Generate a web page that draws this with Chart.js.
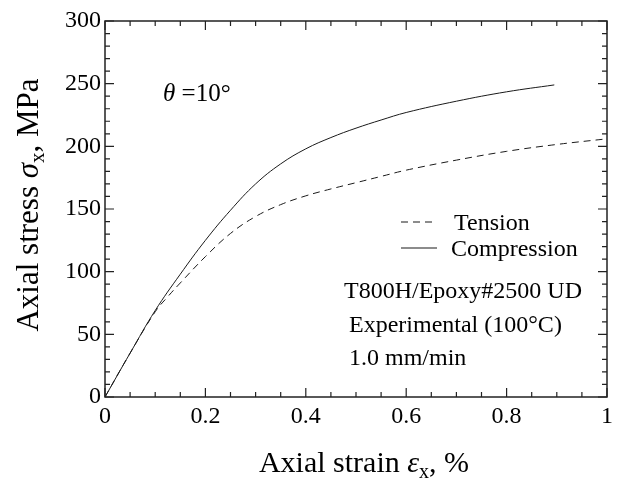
<!DOCTYPE html>
<html>
<head>
<meta charset="utf-8">
<script src="https://cdn.jsdelivr.net/npm/chart.js@4/dist/chart.umd.min.js"></script>
<style>
    html, body { margin: 0; padding: 0; background: #fff; }
    #wrap { width: 622px; height: 482px; position: relative; }
</style>
</head>
<body>
<div id="wrap"><canvas id="stress-strain"></canvas></div>
<script>
// axial strain (%) / axial stress (MPa) read from the test records
const Strain_Tension = [0, 0.05, 0.10, 0.125, 0.15, 0.20, 0.25, 0.30, 0.35, 0.40, 0.45, 0.50, 0.55, 0.60, 0.70, 0.80, 0.90, 1.0];
const Stress_Tension = [0, 35, 68, 80, 91, 112, 130.5, 144, 153.5, 160.5, 166, 171, 176, 181, 189, 196, 201.5, 206];
const Strain_Compression = [0, 0.05, 0.10, 0.15, 0.20, 0.25, 0.30, 0.35, 0.40, 0.45, 0.50, 0.55, 0.60, 0.70, 0.80, 0.895];
const Stress_Compression = [0, 35, 69, 98, 125, 149, 170, 186, 198, 207, 214.5, 221, 227, 236, 243.5, 249];
const Series_Names = ['Tension', 'Compression'];
const X_Ticks = [0, 0.2, 0.4, 0.6, 0.8, 1];
const Y_Ticks = [0, 50, 100, 150, 200, 250, 300];
const Notes = ['T800H/Epoxy#2500 UD', 'Experimental (100°C)', '1.0 mm/min'];

const SERIF = '"Liberation Serif", "Times New Roman", serif';
const INK = '#1a1a1a';

function toPoints(xs, ys) {
    return xs.map((x, i) => ({ x: x, y: ys[i] }));
}

// text made of runs with their own font and baseline shift
function richText(ctx, runs, x, y, align) {
    let total = 0;
    runs.forEach(r => { ctx.font = r.font; total += ctx.measureText(r.text).width; });
    let cx = align === 'center' ? x - total / 2 : x;
    runs.forEach(r => {
        ctx.font = r.font;
        ctx.fillText(r.text, cx, y + (r.dy || 0));
        cx += ctx.measureText(r.text).width;
    });
}

const framePlugin = {
    id: 'frame',
    afterDatasetsDraw(chart) {
        const { ctx, chartArea: a, scales } = chart;
        const xs = scales.x, ys = scales.y;
        ctx.save();
        ctx.strokeStyle = '#222';
        ctx.lineWidth = 1.5;
        ctx.strokeRect(a.left, a.top, a.right - a.left, a.bottom - a.top);

        // inward ticks on all four sides
        ctx.lineWidth = 1.2;
        ctx.beginPath();
        for (let i = 0; i <= 20; i++) {
            const v = i * 0.05;
            const len = i % 4 === 0 ? 9 : 5;
            const px = xs.getPixelForValue(v);
            ctx.moveTo(px, a.bottom); ctx.lineTo(px, a.bottom - len);
            ctx.moveTo(px, a.top); ctx.lineTo(px, a.top + len);
        }
        for (let i = 0; i <= 30; i++) {
            const v = i * 10;
            const len = i % 5 === 0 ? 9 : 5;
            const py = ys.getPixelForValue(v);
            ctx.moveTo(a.left, py); ctx.lineTo(a.left + len, py);
            ctx.moveTo(a.right, py); ctx.lineTo(a.right - len, py);
        }
        ctx.stroke();
        ctx.restore();
    },
    afterDraw(chart) {
        const { ctx } = chart;
        const ds = chart.data.datasets;
        ctx.save();
        ctx.fillStyle = '#000';
        ctx.textBaseline = 'alphabetic';

        // axis titles
        richText(ctx, [
            { text: 'Axial strain ', font: '30px ' + SERIF },
            { text: 'ε', font: 'italic 30px ' + SERIF },
            { text: 'x', font: '20px ' + SERIF, dy: 6 },
            { text: ', %', font: '30px ' + SERIF }
        ], 364, 472, 'center');

        ctx.save();
        ctx.translate(38, 205);
        ctx.rotate(-Math.PI / 2);
        richText(ctx, [
            { text: 'Axial stress ', font: '31px ' + SERIF },
            { text: 'σ', font: 'italic 31px ' + SERIF },
            { text: 'x', font: '21px ' + SERIF, dy: 6 },
            { text: ', MPa', font: '31px ' + SERIF }
        ], 0, 0, 'center');
        ctx.restore();

        // fibre angle
        richText(ctx, [
            { text: 'θ', font: 'italic 25px ' + SERIF },
            { text: ' =10°', font: '25px ' + SERIF }
        ], 163, 101, 'left');

        // legend
        const legendRows = [{ y: 230 }, { y: 256 }];
        legendRows.forEach((row, i) => {
            ctx.save();
            ctx.strokeStyle = ds[i].borderColor;
            ctx.lineWidth = 1.2;
            ctx.setLineDash(ds[i].borderDash || []);
            ctx.beginPath();
            ctx.moveTo(401, row.y - 8);
            ctx.lineTo(437, row.y - 8);
            ctx.stroke();
            ctx.restore();
            ctx.font = '24px ' + SERIF;
            ctx.fillText(Series_Names[i], i === 0 ? 454 : 451, row.y);
        });

        // specimen notes
        ctx.font = '24px ' + SERIF;
        ctx.fillText(Notes[0], 344, 298);
        ctx.fillText(Notes[1], 349, 332);
        ctx.fillText(Notes[2], 349, 365);
        ctx.restore();
    }
};

new Chart(document.querySelector('#stress-strain'), {
    type: 'line',
    data: {
        datasets: [{
            label: Series_Names[0],
            data: toPoints(Strain_Tension, Stress_Tension),
            borderColor: INK,
            borderWidth: 1,
            borderDash: [7, 5],
            pointRadius: 0,
            tension: 0.4,
            fill: false
        }, {
            label: Series_Names[1],
            data: toPoints(Strain_Compression, Stress_Compression),
            borderColor: INK,
            borderWidth: 1,
            pointRadius: 0,
            tension: 0.4,
            fill: false
        }]
    },
    options: {
        responsive: true,
        maintainAspectRatio: false,
        animation: false,
        layout: { padding: { top: 21, right: 15, left: 0, bottom: 0 } },
        plugins: {
            legend: { display: false },
            tooltip: { enabled: false }
        },
        scales: {
            x: {
                type: 'linear',
                min: 0,
                max: 1,
                afterBuildTicks: (scale) => { scale.ticks = X_Ticks.map(v => ({ value: v })); },
                afterFit: (scale) => { scale.height = 85; },
                grid: { display: false, drawTicks: false },
                border: { display: false },
                ticks: {
                    padding: 5,
                    color: '#000',
                    maxRotation: 0,
                    font: { family: SERIF, size: 24 },
                    callback: (v) => String(v)
                }
            },
            y: {
                type: 'linear',
                min: 0,
                max: 300,
                afterBuildTicks: (scale) => { scale.ticks = Y_Ticks.map(v => ({ value: v })); },
                afterFit: (scale) => { scale.width = 105; },
                grid: { display: false, drawTicks: false },
                border: { display: false },
                ticks: {
                    padding: 4,
                    color: '#000',
                    font: { family: SERIF, size: 24 },
                    callback: (v) => String(v)
                }
            }
        }
    },
    plugins: [framePlugin]
});
</script>
</body>
</html>
